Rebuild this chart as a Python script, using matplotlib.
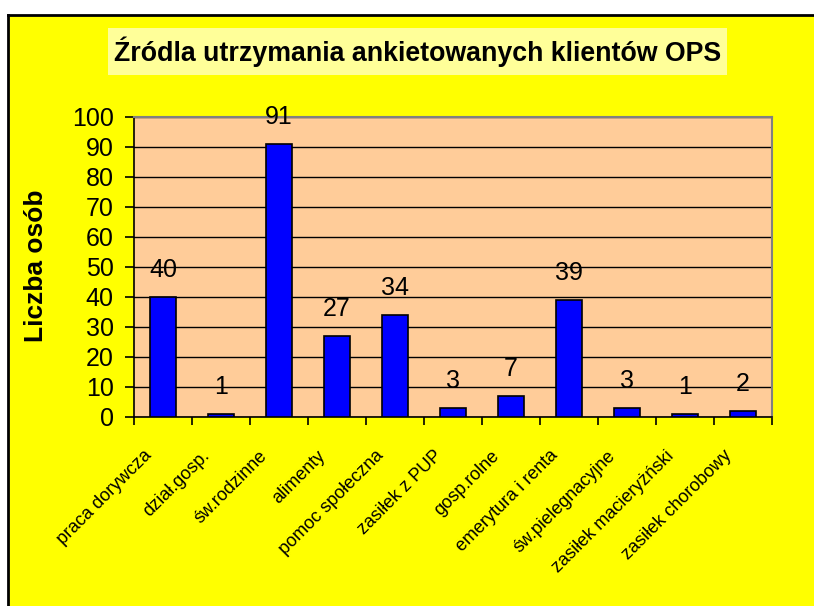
import matplotlib.pyplot as plt
from matplotlib.patches import Rectangle
from matplotlib.transforms import ScaledTranslation
import numpy as np

categories = ["praca dorywcza", "dział.gosp.", "św.rodzinne", "alimenty", "pomoc społeczna",
              "zasiłek z PUP", "gosp.rolne", "emerytura i renta", "św.pielegnacyjne",
              "zasiłek macieryżński", "zasiłek chorobowy"]
values = [40, 1, 91, 27, 34, 3, 7, 39, 3, 1, 2]
yticks = list(range(0, 101, 10))

plt.rcParams['font.family'] = ['Liberation Sans', 'DejaVu Sans']

W, H = 814, 606
fig = plt.figure(figsize=(W / 100, H / 100), dpi=100)
fig.patch.set_facecolor('white')

# yellow chart area with black left/top border
bg = Rectangle((8 / W, 0), 1, 1 - 15 / H, transform=fig.transFigure,
               facecolor='#FFFF00', edgecolor='none', zorder=-10)
fig.patches.append(bg)
fig.add_artist(plt.Line2D([8 / W, 8 / W], [0, 1 - 15 / H], transform=fig.transFigure,
                          color='black', lw=2, zorder=-9))
fig.add_artist(plt.Line2D([8 / W, 1], [1 - 15 / H, 1 - 15 / H], transform=fig.transFigure,
                          color='black', lw=2, zorder=-9))

# title box
tb = Rectangle((108 / W, 1 - 75 / H), (727 - 108) / W, (75 - 28) / H, transform=fig.transFigure,
               facecolor='#FFFF99', edgecolor='none', zorder=-8)
fig.patches.append(tb)
fig.text((108 + 727) / 2 / W, 1 - 52 / H, "Źródla utrzymania ankietowanych klientów OPS",
         ha='center', va='center', fontsize=19.3, fontweight='bold')

fig.text(36 / W, 1 - 266 / H, "Liczba osób", rotation=90, ha='center', va='center',
         fontsize=19, fontweight='bold')

left, right, top, bottom = 134, 772, 117, 417
ax = fig.add_axes([left / W, 1 - bottom / H, (right - left) / W, (bottom - top) / H])
ax.set_zorder(1)
ax.set_facecolor('#FFCC99')

x = np.arange(len(categories))
ax.bar(x, values, width=0.45, color='#0000FF', edgecolor='black', linewidth=1.2, zorder=3)
for xi, v in zip(x, values):
    ax.annotate(str(v), (xi, v), xytext=(0, 19.5), textcoords='offset points',
                ha='center', va='center', fontsize=18, zorder=4, annotation_clip=False)

ax.set_xlim(-0.5, len(categories) - 0.5)
ax.set_ylim(0, 100)
ax.set_yticks(yticks)
ax.yaxis.grid(True, color='black', lw=1, zorder=1)
ax.set_axisbelow(True)
ax.tick_params(axis='y', labelsize=18, direction='out', length=6.5, width=1.2, pad=8)

ax.set_xticks(np.arange(len(categories) + 1) - 0.5, minor=True)
ax.set_xticks(x)
ax.set_xticklabels(categories, rotation=45, ha='right', va='center',
                   rotation_mode='anchor', fontsize=13)
ax.tick_params(axis='x', which='major', length=0, pad=26)
ax.tick_params(axis='x', which='minor', length=5.5, width=1.2, direction='out')
shift = ScaledTranslation(-14 / 100, 0, fig.dpi_scale_trans)
for lbl in ax.get_xticklabels():
    lbl.set_transform(lbl.get_transform() + shift)

for s in ['top', 'right']:
    ax.spines[s].set_color('#808080')
    ax.spines[s].set_linewidth(1.5)
for s in ['left', 'bottom']:
    ax.spines[s].set_color('black')
    ax.spines[s].set_linewidth(1.2)

fig.savefig("out.png", dpi=100, facecolor='white')
